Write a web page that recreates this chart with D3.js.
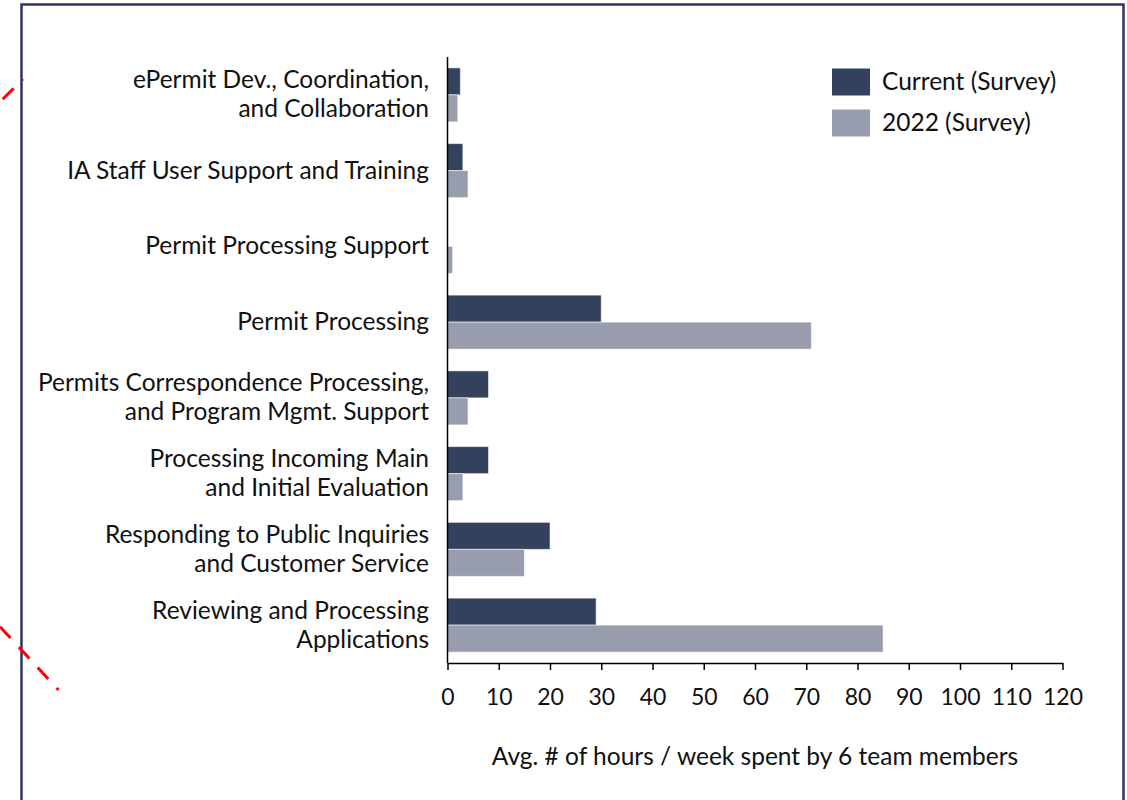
<!DOCTYPE html>
<html>
<head>
<meta charset="utf-8">
<script src="https://cdn.jsdelivr.net/npm/d3@7/dist/d3.min.js"></script>
<style>
  html, body { margin: 0; padding: 0; background: #ffffff; }
  svg { display: block; font-family: Lato, "Open Sans", sans-serif; }
</style>
</head>
<body>
<svg id="chart" width="1127" height="800"></svg>
<script>
// Activity categories, top to bottom (each entry is the label split into lines)
const categories = [
  ["ePermit Dev., Coordination,", "and Collaboration"],
  ["IA Staff User Support and Training"],
  ["Permit Processing Support"],
  ["Permit Processing"],
  ["Permits Correspondence Processing,", "and Program Mgmt. Support"],
  ["Processing Incoming Main", "and Initial Evaluation"],
  ["Responding to Public Inquiries", "and Customer Service"],
  ["Reviewing and Processing", "Applications"]
];

// Average hours per week, by survey
const currentSurvey = [2.5, 3, 0, 30, 8, 8, 20, 29];
const survey2022 = [2, 4, 1, 71, 4, 3, 15, 85];

const seriesNames = ["Current (Survey)", "2022 (Survey)"];
const seriesColors = ["#33415c", "#979dad"];

const xTicks = [0, 10, 20, 30, 40, 50, 60, 70, 80, 90, 100, 110, 120];
const xTitle = "Avg. # of hours / week spent by 6 team members";

const svg = d3.select("#chart");
const FONT = 24.5;
const TICK_FONT = 23;

// Frame around the chart
svg.append("rect")
  .attr("x", 21.5).attr("y", 4.5)
  .attr("width", 1102).attr("height", 900)
  .attr("fill", "none")
  .attr("stroke", "#2e3366")
  .attr("stroke-width", 2.5);

// Red dashed guide marks along the left edge
const guides = [
  [[2.7, 99.3], [23, 79]],
  [[0, 626.7], [58.5, 690]]
];
svg.selectAll("line.guide")
  .data(guides)
  .join("line")
  .attr("class", "guide")
  .attr("x1", d => d[0][0]).attr("y1", d => d[0][1])
  .attr("x2", d => d[1][0]).attr("y2", d => d[1][1])
  .attr("stroke", "#ff0000")
  .attr("stroke-width", 3)
  .attr("stroke-dasharray", "15.5 12.3");

const plot = { left: 447.5, right: 1062.5, top: 57, bottom: 663 };

const x = d3.scaleLinear()
  .domain([0, 120])
  .range([plot.left, plot.right]);

const keys = categories.map((c, i) => i);
const y = d3.scaleBand()
  .domain(keys)
  .range([plot.top, plot.bottom])
  .paddingInner(0.287)
  .paddingOuter(0.1435);

const ySub = d3.scaleBand()
  .domain([0, 1])
  .range([0, y.bandwidth()]);

const rows = keys.map(i => ({ i, values: [currentSurvey[i], survey2022[i]] }));

// Bars
const groups = svg.append("g")
  .selectAll("g")
  .data(rows)
  .join("g")
  .attr("transform", d => `translate(0,${y(d.i)})`);

groups.selectAll("rect")
  .data(d => d.values.map((v, s) => ({ v, s })))
  .join("rect")
  .attr("x", x(0))
  .attr("y", d => ySub(d.s))
  .attr("width", d => x(d.v) - x(0))
  .attr("height", ySub.bandwidth())
  .attr("fill", d => seriesColors[d.s])
  .attr("stroke", "rgba(255,255,255,0.55)")
  .attr("stroke-width", d => d.v > 0 ? 1 : 0);

// X axis
const xAxis = svg.append("g")
  .attr("transform", `translate(0,${plot.bottom})`)
  .call(d3.axisBottom(x)
    .tickValues(xTicks)
    .tickFormat(d3.format("d"))
    .tickSize(7)
    .tickSizeOuter(0)
    .tickPadding(19));
xAxis.select(".domain").attr("stroke", "#000").attr("stroke-width", 1.5);
xAxis.selectAll(".tick line").attr("stroke", "#000").attr("stroke-width", 1.5);
xAxis.selectAll(".tick text")
  .attr("fill", "#111")
  .style("font-size", TICK_FONT + "px")
  .style("font-family", "Lato, 'Open Sans', sans-serif");

// Y axis line
svg.append("line")
  .attr("x1", plot.left).attr("x2", plot.left)
  .attr("y1", plot.top).attr("y2", plot.bottom)
  .attr("stroke", "#000")
  .attr("stroke-width", 1.5);

// Category labels
const lineGap = 29;
const labels = svg.append("g")
  .selectAll("text")
  .data(keys)
  .join("text")
  .attr("text-anchor", "end")
  .attr("fill", "#111")
  .style("font-size", FONT + "px")
  .attr("x", 429)
  .attr("y", i => y(i) + y.bandwidth() / 2);

labels.each(function(i) {
  const lines = categories[i];
  const first = -(lines.length - 1) * lineGap / 2;
  d3.select(this).selectAll("tspan")
    .data(lines)
    .join("tspan")
    .attr("x", 429)
    .attr("y", (l, k) => y(i) + y.bandwidth() / 2 + first + k * lineGap)
    .attr("dy", "0.33em")
    .text(l => l);
});

// Legend
const legend = svg.append("g")
  .selectAll("g")
  .data(seriesNames)
  .join("g")
  .attr("transform", (d, k) => `translate(832,${68.5 + k * 41})`);
legend.append("rect")
  .attr("width", 38).attr("height", 27)
  .attr("fill", (d, k) => seriesColors[k]);
legend.append("text")
  .attr("x", 50).attr("y", 13.5)
  .attr("dy", "0.33em")
  .attr("fill", "#111")
  .style("font-size", FONT + "px")
  .text(d => d);

// X axis title
svg.append("text")
  .attr("x", (plot.left + plot.right) / 2)
  .attr("y", 757)
  .attr("dy", "0.33em")
  .attr("text-anchor", "middle")
  .attr("fill", "#111")
  .style("font-size", FONT + "px")
  .text(xTitle);
</script>
</body>
</html>
